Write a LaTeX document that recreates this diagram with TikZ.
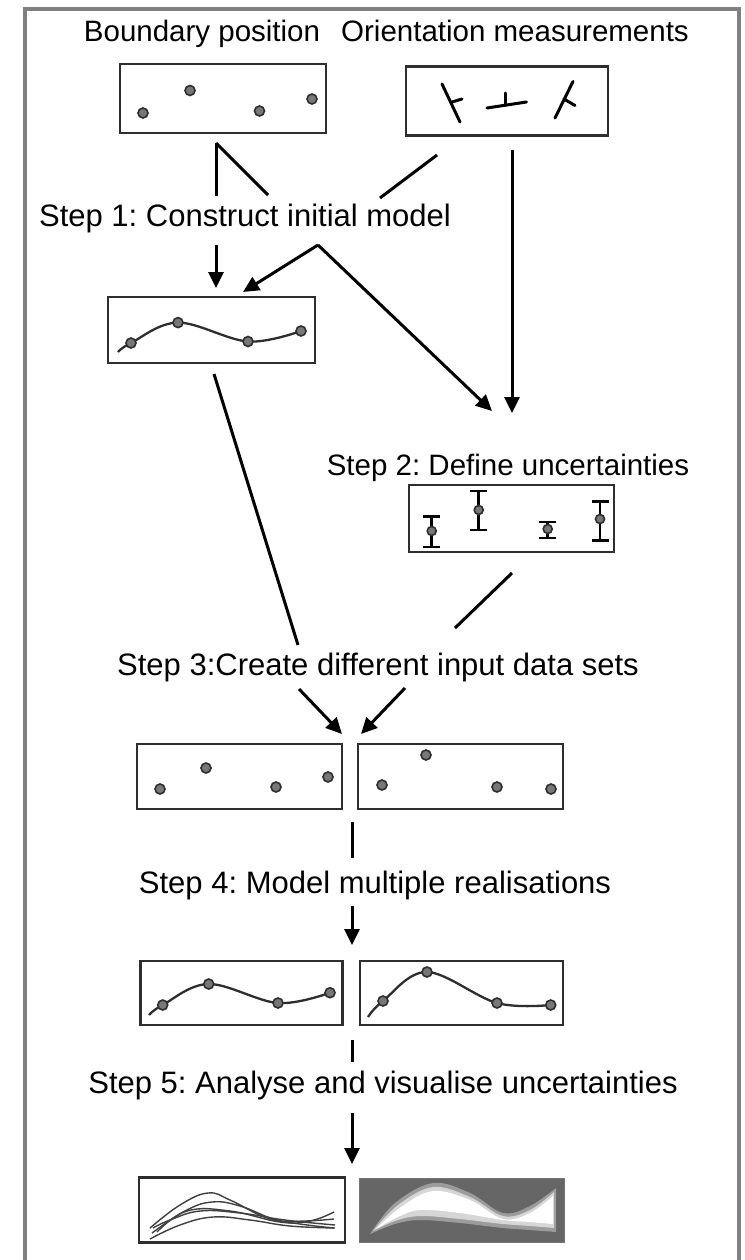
\documentclass[tikz,border=0pt]{standalone}
\usepackage{fontspec}
\setmainfont{Liberation Sans}
\usetikzlibrary{arrows.meta}
\definecolor{framegray}{HTML}{808080}
\definecolor{boxline}{HTML}{2E2E2E}
\definecolor{dotfill}{HTML}{777777}
\definecolor{darkpanel}{HTML}{666666}
\definecolor{bandA}{HTML}{9C9C9C}
\definecolor{bandB}{HTML}{D6D6D6}
\begin{document}
\begin{tikzpicture}[x=1pt,y=-1pt,
  lbl/.style={font=\fontsize{29.5}{34}\selectfont\frenchspacing, anchor=base, inner sep=0pt},
  steplbl/.style={lbl, font=\fontsize{31}{35}\selectfont\frenchspacing},
  panel/.style={draw=boxline, line width=2.4pt, fill=white, inner sep=0pt},
  conn/.style={line width=3pt, black},
  arr/.style={conn, -{Triangle[length=16pt,width=15pt]}},
  dot/.style={circle, draw=boxline, fill=dotfill, line width=1.6pt, minimum size=10pt, inner sep=0pt},
  curve/.style={line width=2.3pt, boxline},
  sym/.style={line width=3pt, black, line cap=round},
  ebar/.style={line width=2.8pt, black}]
\useasboundingbox (0,0) rectangle (744,1260);
% outer frame (open at the bottom)
\draw[framegray, line width=4pt] (25,1275) -- (25,9) -- (739,9) -- (739,1275);

% labels
\node[lbl] (tb) at (202,42) {Boundary position};
\node[lbl] (to) at (515,42) {Orientation measurements};
\node[steplbl] (s1) at (245,226) {Step 1: Construct initial model};
\node[lbl] (s2) at (508,475) {Step 2: Define uncertainties};
\node[steplbl] (s3) at (378,675) {Step 3:Create different input data sets};
\node[steplbl] (s4) at (375,893) {Step 4: Model multiple realisations};
\node[steplbl] (s5) at (383,1093) {Step 5: Analyse and visualise uncertainties};

% panels
\node[panel, minimum width=206pt, minimum height=69pt] (A) at (223,98.5) {};
\node[panel, minimum width=202pt, minimum height=69pt] (B) at (507,101) {};
\node[panel, minimum width=207pt, minimum height=66pt] (C) at (211.5,330) {};
\node[panel, minimum width=205pt, minimum height=67pt] (D) at (511.5,518.5) {};
\node[panel, minimum width=205pt, minimum height=65pt] (E1) at (239.5,776.5) {};
\node[panel, minimum width=205pt, minimum height=65pt] (E2) at (460.5,776.5) {};
\node[panel, minimum width=202pt, minimum height=64pt] (F1) at (241.5,993) {};
\node[panel, minimum width=203pt, minimum height=64pt] (F2) at (461.5,993) {};
\node[panel, minimum width=206pt, minimum height=65pt] (G1) at (242,1210) {};
\node[fill=darkpanel, draw=darkpanel!90, line width=1pt, minimum width=205pt, minimum height=64pt, inner sep=0pt] (G2) at (461.5,1210) {};

% panel A dots
\node[dot] (a1) at (143,113) {};
\node[dot] (a2) at (190,90.5) {};
\node[dot] (a3) at (259.5,111) {};
\node[dot] (a4) at (312,99) {};

% panel B orientation symbols
\draw[sym] (442,84) -- (460,122);
\draw[sym] (452,102) -- (462,99);
\draw[sym] (487,108) -- (526.5,102);
\draw[sym] (505,105.5) -- (505,93);
\draw[sym] (555,118) -- (573,81.5);
\draw[sym] (564,99) -- (575,105.5);

% panel C initial model
\draw[curve] plot[smooth, tension=0.6] coordinates {(118,352) (131,343) (178,322.6) (248,341.5) (301,331)};
\node[dot] (c1) at (131,343) {};
\node[dot] (c2) at (178,322.6) {};
\node[dot] (c3) at (248,341.5) {};
\node[dot] (c4) at (301,331) {};

% panel D error bars
\foreach \x/\t/\b/\d in {431.7/516.7/547/531, 478.7/491/530/510, 547.7/522/538/529, 600/501.7/540.7/519}{
  \draw[ebar] (\x,\t) -- (\x,\b);
  \draw[ebar] (\x-8.5,\t) -- (\x+8.5,\t);
  \draw[ebar] (\x-8.5,\b) -- (\x+8.5,\b);
  \node[dot, minimum size=9pt] at (\x,\d) {};
}

% panels E
\node[dot] (e11) at (160,789) {};
\node[dot] (e12) at (206,768) {};
\node[dot] (e13) at (276,787) {};
\node[dot] (e14) at (328,777) {};
\node[dot] (e21) at (382,785) {};
\node[dot] (e22) at (426,755) {};
\node[dot] (e23) at (497,787) {};
\node[dot] (e24) at (551,789) {};

% panels F
\draw[curve] plot[smooth, tension=0.6] coordinates {(149,1015) (162.7,1005) (208.7,984) (278,1003) (330,992.7)};
\foreach \p in {(162.7,1005),(208.7,984),(278,1003),(330,992.7)} \node[dot] at \p {};
\draw[curve] plot[smooth, tension=0.6] coordinates {(368,1017) (383,1001) (427,972) (497,1003) (550.7,1005)};
\foreach \p in {(383,1001),(427,972),(497,1003),(550.7,1005)} \node[dot] at \p {};

% panel G1 realisations
\begin{scope}[line width=1.4pt, black!75]
\draw plot[smooth, tension=0.7] coordinates {(150,1228) (180,1205) (208,1193) (230,1200) (267,1218) (300,1224) (334,1228)};
\draw plot[smooth, tension=0.7] coordinates {(152,1233) (185,1211) (212,1202) (240,1206) (277,1220) (305,1221) (334,1219)};
\draw plot[smooth, tension=0.7] coordinates {(157,1232) (187,1211) (230,1211) (280,1222) (310,1221) (334,1212)};
\draw plot[smooth, tension=0.7] coordinates {(150,1239) (180,1225) (213,1217) (250,1220) (290,1226) (335,1228)};
\draw plot[smooth, tension=0.7] coordinates {(153,1228) (170,1220) (200,1211) (240,1213) (285,1220) (335,1225)};
\end{scope}

% panel G2 uncertainty band
\fill[bandA] plot[smooth, tension=0.6] coordinates {(370,1234) (395,1203) (433,1183) (470,1193) (503,1213) (530,1206) (556,1188)}
  -- (556,1232) -- plot[smooth, tension=0.6] coordinates {(556,1232) (530,1230) (503,1228) (460,1223) (420,1220) (395,1224) (370,1234)} -- cycle;
\fill[bandB] plot[smooth, tension=0.6] coordinates {(373,1231) (398,1205) (433,1187) (470,1197) (503,1216) (530,1210) (554,1192)}
  -- (554,1228) -- plot[smooth, tension=0.6] coordinates {(554,1228) (530,1226) (503,1224) (460,1219) (420,1216) (395,1221) (373,1231)} -- cycle;
\fill[white] plot[smooth, tension=0.6] coordinates {(376,1229) (401,1207) (433,1191) (470,1200) (503,1219) (530,1213) (553,1196)}
  -- (553,1224) -- plot[smooth, tension=0.6] coordinates {(553,1224) (530,1222) (503,1220) (460,1213) (420,1210) (398,1217) (376,1229)} -- cycle;

% connector coordinates
\coordinate (Abot) at (216,143);
\coordinate (Aa) at (216,196);
\coordinate (Ab) at (216,245);
\coordinate (Ctop) at (216,288);
\coordinate (Ad) at (268,195);
\coordinate (X) at (318,245);
\coordinate (Bd) at (437,155);
\coordinate (Be) at (380,198);
\coordinate (Ctip) at (243,292);
\coordinate (S2tip) at (492,411);
\coordinate (Bv) at (512,150);
\coordinate (Bvtip) at (512,413);
\coordinate (Cb) at (214,374);
\coordinate (Cc) at (298,645);
\coordinate (L3) at (299,689);
\coordinate (E1tip) at (342,734);
\coordinate (Db) at (512,573);
\coordinate (Dc) at (455,628);
\coordinate (R3) at (405,688);
\coordinate (E2tip) at (361,734);
\coordinate (E4a) at (352,822);
\coordinate (E4b) at (352,858);
\coordinate (F4a) at (352,906);
\coordinate (F4tip) at (352,945);
\coordinate (G5a) at (352,1040);
\coordinate (G5b) at (352,1062);
\coordinate (H5a) at (352,1113);
\coordinate (H5tip) at (352,1164);

\draw[conn] (Abot) -- (Aa);
\draw[arr] (Ab) -- (Ctop);
\draw[conn] (Abot) -- (Ad);
\draw[arr] (X) -- (S2tip);
\draw[conn] (Bd) -- (Be);
\draw[arr] (X) -- (Ctip);
\draw[arr] (Bv) -- (Bvtip);
\draw[conn] (Cb) -- (Cc);
\draw[arr] (L3) -- (E1tip);
\draw[conn] (Db) -- (Dc);
\draw[arr] (R3) -- (E2tip);
\draw[conn] (E4a) -- (E4b);
\draw[arr] (F4a) -- (F4tip);
\draw[conn] (G5a) -- (G5b);
\draw[arr] (H5a) -- (H5tip);
\end{tikzpicture}
\end{document}
